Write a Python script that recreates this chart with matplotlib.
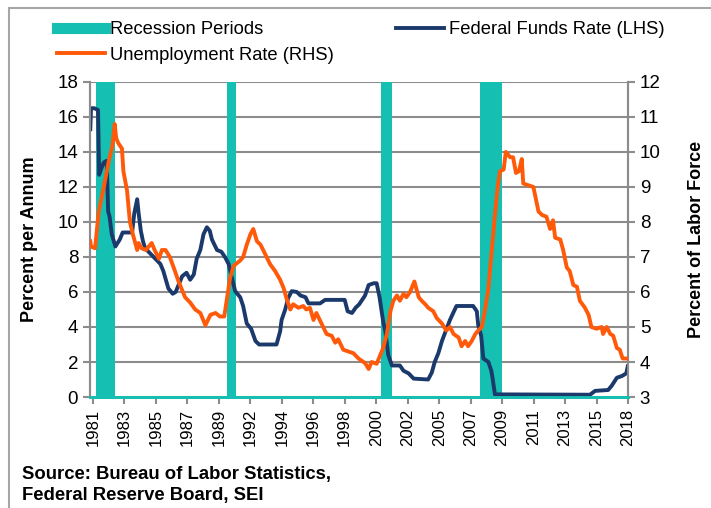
import matplotlib.pyplot as plt
import matplotlib.patches as mpatches
import numpy as np

plt.rcParams['font.family'] = ['Liberation Sans', 'DejaVu Sans']

teal = "#15BFB2"
navy = "#1B3A6B"
orange = "#FF5A0A"
grid_gray = "#8C8C8C"

# recession periods (start, end) in years
rec_start = [1981.48, 1990.5, 2001.11, 2007.93]
rec_end = [1982.8, 1991.12, 2001.87, 2009.45]

# federal funds rate, percent per annum (LHS)
ffr_year = [1981.07, 1981.12, 1981.35, 1981.6, 1981.68, 1981.8, 1982.0, 1982.2, 1982.3, 1982.4,
            1982.55, 1982.8, 1982.95, 1983.1, 1983.3, 1983.95, 1984.1, 1984.3, 1984.4, 1984.55,
            1984.7, 1984.85, 1985.2, 1985.55, 1985.9, 1986.1, 1986.45, 1986.75, 1986.95, 1987.15,
            1987.4, 1987.7, 1987.95, 1988.2, 1988.4, 1988.65, 1988.87, 1989.1, 1989.3, 1989.45,
            1989.8, 1990.1, 1990.35, 1990.6, 1990.8, 1991.05, 1991.4, 1991.6, 1991.85, 1992.15,
            1992.45, 1992.7, 1993.9, 1994.15, 1994.25, 1994.5, 1994.7, 1994.95, 1995.3, 1995.55,
            1995.9, 1996.1, 1996.9, 1997.25, 1998.6, 1998.8, 1999.1, 1999.35, 1999.6, 2000.0,
            2000.25, 2000.6, 2000.8, 2001.0, 2001.25, 2001.4, 2001.6, 2001.85, 2002.4, 2002.65,
            2003.0, 2003.35, 2004.35, 2004.6, 2004.8, 2005.05, 2005.3, 2005.55, 2005.85, 2006.1,
            2006.3, 2007.45, 2007.7, 2007.8, 2008.0, 2008.15, 2008.5, 2008.7, 2008.8, 2008.95,
            2015.5, 2015.85, 2016.75, 2017.0, 2017.35, 2017.7, 2018.0, 2018.1]
ffr_val = [15.3, 16.5, 16.5, 16.4, 12.7, 13.0, 13.4, 13.5, 10.6, 10.3,
           9.3, 8.6, 8.8, 9.0, 9.4, 9.4, 10.5, 11.3, 10.5, 9.5,
           8.9, 8.5, 8.2, 7.9, 7.6, 7.2, 6.2, 5.9, 6.0, 6.4,
           6.9, 7.1, 6.7, 7.0, 7.9, 8.4, 9.3, 9.7, 9.5, 9.0,
           8.4, 8.3, 8.0, 7.6, 6.9, 6.05, 5.7, 5.2, 4.2, 3.9,
           3.2, 3.0, 3.0, 3.75, 4.4, 5.0, 5.65, 6.05, 6.0, 5.8,
           5.7, 5.35, 5.35, 5.55, 5.55, 4.9, 4.8, 5.1, 5.3, 5.8,
           6.4, 6.5, 6.5, 5.7, 4.3, 3.75, 2.4, 1.8, 1.8, 1.5,
           1.35, 1.05, 1.0, 1.4, 2.0, 2.5, 3.2, 3.75, 4.4, 4.85,
           5.2, 5.2, 4.9, 4.1, 3.5, 2.2, 2.0, 1.5, 1.0, 0.15,
           0.13, 0.35, 0.4, 0.65, 1.1, 1.2, 1.35, 1.75]

# unemployment rate, percent of labor force (RHS)
unemp_year = [1981.07, 1981.12, 1981.4, 1981.65, 1982.0, 1982.35, 1982.6, 1982.75, 1982.85, 1983.0,
              1983.25, 1983.35, 1983.6, 1983.8, 1984.0, 1984.3, 1984.4, 1984.6, 1984.9, 1985.3,
              1985.5, 1985.8, 1986.0, 1986.25, 1986.55, 1986.9, 1987.15, 1987.6, 1987.95, 1988.3,
              1988.65, 1989.0, 1989.35, 1989.7, 1990.0, 1990.3, 1990.5, 1990.7, 1990.95, 1991.4,
              1991.6, 1991.85, 1992.1, 1992.3, 1992.55, 1992.8, 1993.1, 1993.45, 1993.8, 1994.15,
              1994.4, 1994.6, 1994.85, 1995.05, 1995.4, 1995.75, 1995.95, 1996.2, 1996.45, 1996.65,
              1997.0, 1997.35, 1997.7, 1997.95, 1998.15, 1998.5, 1998.85, 1999.2, 1999.55, 2000.0,
              2000.25, 2000.45, 2000.8, 2001.05, 2001.25, 2001.5, 2001.75, 2001.95, 2002.2, 2002.4,
              2002.65, 2002.85, 2003.1, 2003.4, 2003.7, 2003.9, 2004.15, 2004.35, 2004.7, 2004.95,
              2005.3, 2005.6, 2005.85, 2006.1, 2006.45, 2006.65, 2006.9, 2007.1, 2007.35, 2007.6,
              2007.8, 2008.05, 2008.25, 2008.5, 2008.7, 2008.95, 2009.15, 2009.3, 2009.55, 2009.7,
              2010.0, 2010.2, 2010.4, 2010.6, 2010.8, 2010.9, 2011.25, 2011.6, 2011.8, 2011.95,
              2012.2, 2012.5, 2012.75, 2012.95, 2013.1, 2013.45, 2013.65, 2013.9, 2014.1, 2014.35,
              2014.6, 2014.8, 2015.15, 2015.4, 2015.6, 2015.95, 2016.3, 2016.4, 2016.65, 2016.9,
              2017.1, 2017.35, 2017.55, 2017.75, 2018.1]
unemp_val = [7.45, 7.3, 7.25, 8.3, 9.0, 9.75, 10.2, 10.8, 10.4, 10.25,
             10.1, 9.45, 8.9, 8.0, 7.65, 7.2, 7.4, 7.25, 7.2, 7.4,
             7.2, 6.95, 7.2, 7.2, 7.0, 6.6, 6.3, 5.85, 5.7, 5.5,
             5.4, 5.05, 5.35, 5.4, 5.3, 5.3, 5.85, 6.4, 6.75, 6.9,
             7.0, 7.35, 7.65, 7.8, 7.45, 7.35, 7.1, 6.8, 6.6, 6.35,
             6.1, 5.8, 5.5, 5.65, 5.55, 5.6, 5.5, 5.55, 5.2, 5.4,
             5.1, 4.8, 4.75, 4.55, 4.65, 4.35, 4.3, 4.25, 4.1, 3.97,
             3.8, 4.0, 3.95, 4.2, 4.4, 4.8, 5.45, 5.75, 5.9, 5.75,
             5.95, 5.85, 6.0, 6.3, 5.85, 5.75, 5.65, 5.55, 5.45, 5.25,
             5.1, 4.9, 5.0, 4.8, 4.7, 4.45, 4.6, 4.45, 4.6, 4.8,
             4.9, 5.0, 5.45, 6.1, 7.05, 8.2, 9.05, 9.45, 9.5, 10.0,
             9.85, 9.85, 9.4, 9.45, 9.8, 9.1, 9.05, 9.0, 8.6, 8.3,
             8.2, 8.15, 7.8, 8.05, 7.55, 7.5, 7.2, 6.7, 6.6, 6.2,
             6.15, 5.75, 5.55, 5.35, 5.0, 4.95, 5.0, 4.8, 5.0, 4.8,
             4.75, 4.4, 4.35, 4.1, 4.1]

year_labels = ["1981", "1983", "1985", "1987", "1989", "1992", "1994", "1996", "1998",
               "2000", "2002", "2005", "2007", "2009", "2011", "2013", "2015", "2018"]

fig = plt.figure(figsize=(7.11, 5.08), dpi=100)
ax = fig.add_axes([0.1266, 0.2185, 0.7567, 0.6201])
ax2 = ax.twinx()

for s, e in zip(rec_start, rec_end):
    ax.axvspan(s, e, color=teal, lw=0, zorder=1)

ax.set_ylim(0, 18)
ax.set_yticks(np.arange(0, 19, 2))
ax.set_xlim(1981.05, 2018.12)
ax.set_xticks(np.linspace(1981.25, 2018.12, len(year_labels)))
ax.set_xticklabels(year_labels, rotation=90)
ax.yaxis.grid(True, color=grid_gray, lw=1.5, zorder=0)
ax.set_axisbelow(True)

ffr_line, = ax.plot(ffr_year, ffr_val, color=navy, lw=2.8, zorder=3)
ax2.set_ylim(3, 12)
ax2.set_yticks(np.arange(3, 13, 1))
un_line, = ax2.plot(unemp_year, unemp_val, color=orange, lw=2.8, zorder=3)

for a in (ax, ax2):
    a.spines['top'].set_visible(False)
    a.spines['left'].set_color(grid_gray)
    a.spines['right'].set_color(grid_gray)
    a.spines['bottom'].set_color(teal)
    a.spines['left'].set_linewidth(1.5)
    a.spines['right'].set_linewidth(1.5)
    a.spines['bottom'].set_linewidth(2)
    a.tick_params(axis='both', colors=grid_gray, labelcolor='black', length=5, width=1.5, labelsize=13.5)
ax.tick_params(axis='x', labelsize=12)

ax.set_ylabel("Percent per Annum", fontsize=13, fontweight='bold', labelpad=14)
ax2.set_ylabel("Percent of Labor Force", fontsize=13, fontweight='bold', labelpad=20)

rec_handle = plt.Line2D([], [], color=teal, lw=8)
fig.legend([rec_handle, un_line, ffr_line],
           ["Recession Periods", "Unemployment Rate (RHS)", "Federal Funds Rate (LHS)"],
           ncol=2, loc='upper left', bbox_to_anchor=(0.08, 0.958), frameon=False,
           fontsize=13.2, handlelength=2.6, handletextpad=0.3, columnspacing=3.4,
           labelspacing=0.45, borderaxespad=0, borderpad=0)

fig.text(0.031, 0.058, "Source: Bureau of Labor Statistics,", fontsize=13.3, fontweight='bold')
fig.text(0.031, 0.016, "Federal Reserve Board, SEI", fontsize=13.3, fontweight='bold')

border = mpatches.Rectangle((9 / 711, -0.05), 0.99, 1.0 - 8 / 508 + 0.05, transform=fig.transFigure,
                            fill=False, edgecolor="#A6A6A6", lw=1.5)
fig.patches.append(border)

plt.savefig("out.png", dpi=100)
